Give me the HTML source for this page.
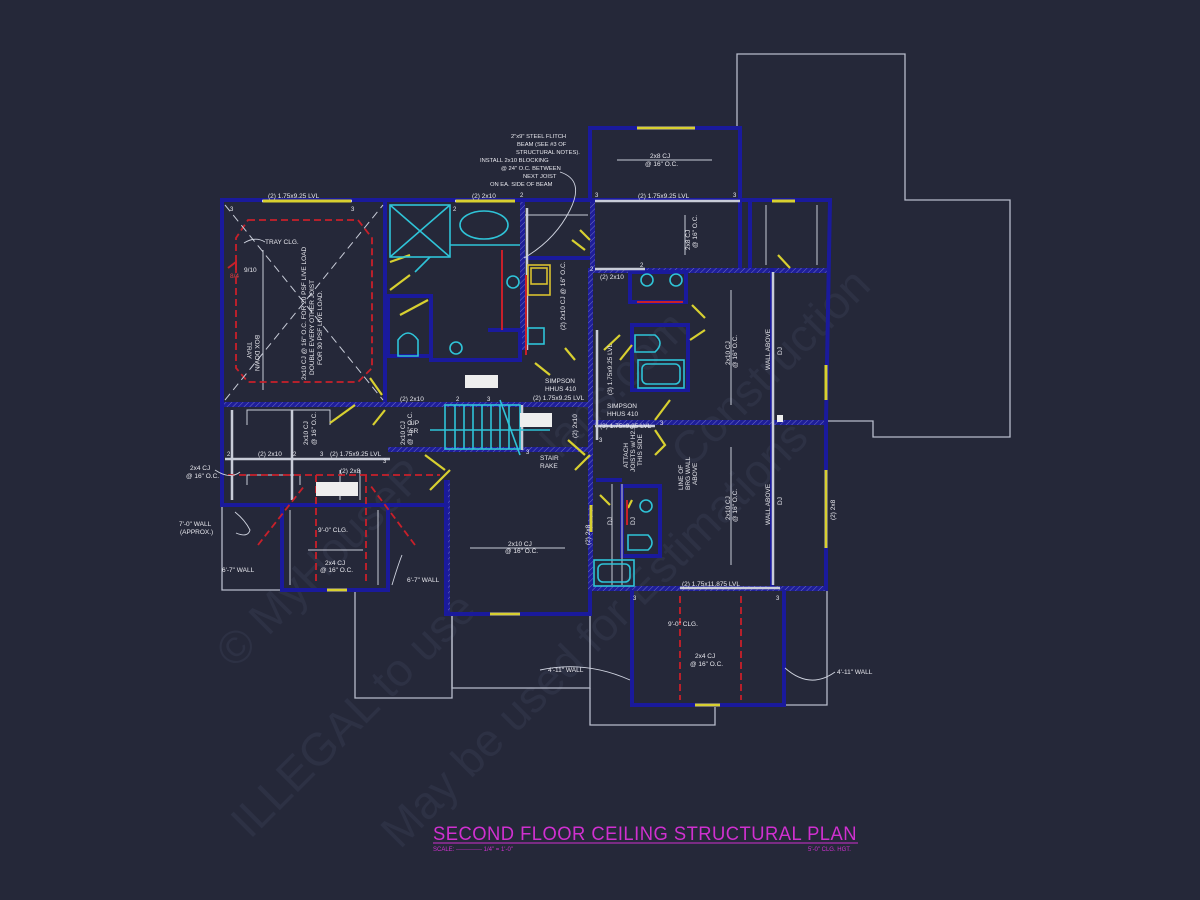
<!DOCTYPE html>
<html><head><meta charset="utf-8"><style>
html,body{margin:0;padding:0;background:#252839;}
svg{display:block}
text{font-family:"Liberation Sans",sans-serif;fill:#e8e8ee}
</style></head><body>
<svg width="1200" height="900" viewBox="0 0 1200 900" xmlns="http://www.w3.org/2000/svg">
<defs>
<pattern id="h" width="4" height="4" patternUnits="userSpaceOnUse" patternTransform="rotate(45)">
<rect width="4" height="4" fill="#1e1e98"/><line x1="0" y1="0" x2="0" y2="4" stroke="#7070c0" stroke-width="1"/></pattern>
</defs>
<rect width="1200" height="900" fill="#252839"/>

<!-- watermark -->
<g font-family="Liberation Serif,serif" font-size="46">
<text x="0" y="0" transform="translate(250,840) rotate(-45)" style="fill:#2d3144">ILLEGAL to use</text>
<text x="0" y="0" transform="translate(235,670) rotate(-45)" style="fill:#2d3144">© MyHouseP</text>
<text x="0" y="0" transform="translate(400,850) rotate(-45)" style="fill:#2d3144">May be used for Estimations</text>
<text x="0" y="0" transform="translate(560,460) rotate(-45)" style="fill:#2d3144">lans.com</text>
<text x="0" y="0" transform="translate(690,470) rotate(-45)" style="fill:#2d3144">Construction</text>
</g>

<!-- gray outlines -->
<g fill="none" stroke="#b8bccb" stroke-width="1.3">
<polyline points="737,128 737,54 905,54 905,200 1010,200 1010,437 873,437 873,421 827,421"/>
<polyline points="222,505 222,590 282,590"/>
<polyline points="355,590 355,698 452,698 452,614"/>
<polyline points="452,614 452,688 590,688 590,614"/>
<polyline points="590,688 590,725 715,725 715,705"/>
<polyline points="784,705 827,705 827,590"/>
</g>

<!-- hatched walls -->
<g fill="url(#h)">
<rect x="222" y="402" width="168" height="5"/>
<rect x="388" y="402" width="200" height="5"/>
<rect x="388" y="447" width="200" height="5"/>
<rect x="446" y="480" width="4" height="134"/>
<rect x="588" y="268" width="240" height="5"/>
<rect x="588" y="420" width="240" height="5"/>
<rect x="588" y="586" width="240" height="5"/>
<rect x="588" y="268" width="5" height="320"/>
<rect x="590" y="200" width="5" height="68"/>
<rect x="520" y="200" width="5" height="150"/>
</g>

<!-- blue walls -->
<g fill="none" stroke="#1a1a9c" stroke-width="4">
<polyline points="590,200 590,128 740,128 740,268"/>
<polyline points="222,402 222,200 830,200 826,420 826,590"/>
<line x1="385" y1="200" x2="385" y2="402"/>
<rect x="388" y="296" width="43" height="60"/>
<polyline points="431,340 431,360 520,360 520,330 488,330"/>
<line x1="525" y1="258" x2="590" y2="258"/>
<polyline points="222,402 222,505 446,505"/>
<polyline points="282,505 282,590 388,590 388,505"/>
<polyline points="446,480 446,614 590,614 590,590"/>
<polyline points="632,590 632,705 784,705 784,590"/>
<line x1="772" y1="268" x2="772" y2="420"/>
<line x1="772" y1="425" x2="772" y2="590"/>
<rect x="630" y="272" width="56" height="30"/>
<rect x="632" y="325" width="56" height="65"/>
<rect x="622" y="486" width="38" height="70"/>
<line x1="750" y1="200" x2="750" y2="268"/>
<line x1="596" y1="480" x2="622" y2="480"/>
</g>

<!-- gray beams -->
<g stroke="#c8ccd8" stroke-width="2.5" fill="none">
<line x1="262" y1="201" x2="352" y2="201"/>
<line x1="455" y1="201" x2="515" y2="201"/>
<line x1="595" y1="201" x2="740" y2="201"/>
<line x1="595" y1="269" x2="645" y2="269"/>
<line x1="225" y1="459" x2="390" y2="459"/>
<line x1="595" y1="426" x2="655" y2="426"/>
<line x1="680" y1="588" x2="780" y2="588"/>
<line x1="597" y1="330" x2="597" y2="440"/>
<line x1="522" y1="405" x2="522" y2="450"/>
<line x1="773" y1="272" x2="773" y2="585"/>
<line x1="232" y1="410" x2="232" y2="500"/>
<line x1="292" y1="410" x2="292" y2="500"/>
<line x1="527" y1="208" x2="527" y2="350"/>
</g>
<g stroke="#c8ccd8" stroke-width="1" fill="none">
<polyline points="247,425 247,410 330,410 330,425"/>
<polyline points="247,485 247,475 300,475 300,485"/>
<line x1="263" y1="250" x2="263" y2="390"/>
<line x1="470" y1="548" x2="565" y2="548"/>
<line x1="617" y1="160" x2="712" y2="160"/>
<line x1="685" y1="215" x2="685" y2="255"/>
<line x1="731" y1="290" x2="731" y2="405"/>
<line x1="731" y1="447" x2="731" y2="565"/>
<line x1="622" y1="484" x2="622" y2="585"/>
<line x1="612" y1="484" x2="612" y2="585"/>
<line x1="766" y1="205" x2="766" y2="265"/>
<line x1="817" y1="205" x2="817" y2="265"/>
<line x1="525" y1="215" x2="588" y2="215"/>
<line x1="308" y1="550" x2="363" y2="550"/>
<line x1="290" y1="510" x2="290" y2="585"/>
<line x1="378" y1="510" x2="378" y2="585"/>
<path d="M340,470 L340,500 M360,470 L360,500"/>
</g>

<!-- yellow windows -->
<g stroke="#d8d030" stroke-width="3" fill="none">
<line x1="263" y1="201" x2="351" y2="201"/>
<line x1="456" y1="201" x2="515" y2="201"/>
<line x1="637" y1="128" x2="695" y2="128"/>
<line x1="772" y1="201" x2="795" y2="201"/>
<line x1="826" y1="365" x2="826" y2="400"/>
<line x1="826" y1="470" x2="826" y2="548"/>
<line x1="490" y1="614" x2="520" y2="614"/>
<line x1="327" y1="590" x2="347" y2="590"/>
<line x1="695" y1="705" x2="720" y2="705"/>
<line x1="591" y1="505" x2="591" y2="532"/>
</g>
<!-- yellow doors -->
<g stroke="#d8d030" stroke-width="2.2" fill="none">
<path d="M390,262 L410,255 M390,290 L410,275"/>
<path d="M400,315 L428,300"/>
<path d="M370,378 L382,395 M373,425 L385,410"/>
<path d="M330,423 L355,405"/>
<path d="M425,455 L445,470 M430,490 L450,470"/>
<path d="M572,240 L585,250 M580,230 L590,240"/>
<path d="M535,363 L550,375 M565,348 L575,360"/>
<path d="M575,470 L590,455 M568,440 L585,455"/>
<path d="M604,350 L620,335 M620,360 L632,345"/>
<path d="M655,420 L670,400"/>
<path d="M692,305 L705,318 M690,340 L705,330"/>
<path d="M778,255 L790,268"/>
<path d="M600,495 L610,505 M628,508 L632,500"/>
<path d="M655,430 L665,445 L655,455"/>
</g>

<!-- red -->
<g stroke="#c8202a" stroke-width="1.8" fill="none" stroke-dasharray="7,4">
<polygon points="248,220 358,220 372,238 372,368 358,382 248,382 236,368 236,238"/>
<line x1="228" y1="475" x2="440" y2="475"/>
<line x1="316" y1="475" x2="316" y2="585"/>
<line x1="366" y1="475" x2="366" y2="585"/>
<line x1="258" y1="545" x2="305" y2="485"/>
<line x1="415" y1="545" x2="370" y2="485"/>
<line x1="680" y1="596" x2="680" y2="700"/>
<line x1="741" y1="596" x2="741" y2="700"/>
</g>
<g stroke="#c8202a" stroke-width="2" fill="none">
<line x1="502" y1="250" x2="502" y2="330"/>
<line x1="526" y1="275" x2="526" y2="355"/>
<line x1="637" y1="302" x2="683" y2="302"/>
<line x1="627" y1="500" x2="627" y2="525"/>
<path d="M228,268 L236,262 L236,270"/>
</g>

<!-- cyan fixtures -->
<g stroke="#2fc4d8" stroke-width="1.6" fill="none">
<rect x="390" y="205" width="60" height="52"/>
<line x1="390" y1="205" x2="450" y2="257"/><line x1="450" y1="205" x2="390" y2="257"/>
<line x1="430" y1="257" x2="415" y2="272"/>
<ellipse cx="484" cy="225" rx="24" ry="14"/>
<line x1="450" y1="245" x2="520" y2="245"/>
<circle cx="513" cy="282" r="6"/>
<circle cx="456" cy="348" r="6"/>
<path d="M398,356 L398,340 Q408,326 418,340 L418,356 Z"/>
<rect x="528" y="328" width="16" height="16"/>
<circle cx="647" cy="280" r="6"/><circle cx="676" cy="280" r="6"/>
<path d="M635,335 L655,335 Q665,343 655,352 L635,352 Z"/>
<rect x="638" y="360" width="46" height="28"/><rect x="642" y="364" width="38" height="20" rx="5"/>
<circle cx="646" cy="506" r="6"/>
<path d="M628,535 L648,535 Q656,543 648,550 L628,550 Z"/>
<rect x="594" y="560" width="40" height="26"/><rect x="598" y="564" width="32" height="18" rx="5"/>
<rect x="445" y="405" width="75" height="44"/>
<path d="M455,405 V449 M464,405 V449 M473,405 V449 M482,405 V449 M491,405 V449 M500,405 V449 M509,405 V449"/>
<line x1="430" y1="430" x2="550" y2="430"/>
<line x1="500" y1="400" x2="520" y2="455"/>
</g>
<g stroke="#d8c030" stroke-width="1.6" fill="none">
<rect x="528" y="265" width="22" height="30"/><rect x="531" y="268" width="16" height="16"/>
</g>

<!-- white diagonals -->
<g stroke="#c8ccd8" stroke-width="1" stroke-dasharray="8,5">
<line x1="225" y1="205" x2="383" y2="400"/>
<line x1="225" y1="400" x2="383" y2="205"/>
</g>

<!-- white boxes -->
<g fill="#eeeeee">
<rect x="465" y="375" width="33" height="13"/>
<rect x="520" y="413" width="32" height="14"/>
<rect x="316" y="482" width="42" height="14"/>
<rect x="777" y="415" width="6" height="7"/>
</g>

<!-- labels -->
<g font-size="6.5">
<text x="268" y="198">(2) 1.75x9.25 LVL</text>
<text x="472" y="198">(2) 2x10</text>
<text x="638" y="198">(2) 1.75x9.25 LVL</text>
<text x="650" y="158">2x8 CJ</text><text x="645" y="166">@ 16" O.C.</text>
<text x="265" y="244">TRAY CLG.</text>
<text x="230" y="278" style="fill:#e84040">8/4</text>
<text x="244" y="272">9/10</text>
<text x="400" y="401">(2) 2x10</text>
<text x="258" y="456">(2) 2x10</text>
<text x="330" y="456">(2) 1.75x9.25 LVL</text>
<text x="340" y="473">(2) 2x8</text>
<text x="190" y="470">2x4 CJ</text><text x="186" y="478">@ 16" O.C.</text>
<text x="179" y="526">7'-0" WALL</text><text x="180" y="534">(APPROX.)</text>
<text x="222" y="572">6'-7" WALL</text>
<text x="407" y="582">6'-7" WALL</text>
<text x="318" y="532">9'-0" CLG.</text>
<text x="325" y="565">2x4 CJ</text><text x="320" y="572">@ 16" O.C.</text>
<text x="508" y="546">2x10 CJ</text><text x="505" y="553">@ 16" O.C.</text>
<text x="410" y="425">UP</text><text x="410" y="433">5R</text>
<text x="540" y="460">STAIR</text><text x="540" y="468">RAKE</text>
<text x="545" y="383">SIMPSON</text><text x="545" y="391">HHUS 410</text>
<text x="607" y="408">SIMPSON</text><text x="607" y="416">HHUS 410</text>
<text x="533" y="400">(2) 1.75x9.25 LVL</text>
<text x="600" y="428">(3) 1.75x9.25 LVL</text>
<text x="600" y="279">(2) 2x10</text>
<text x="682" y="586">(2) 1.75x11.875 LVL</text>
<text x="668" y="626">9'-0" CLG.</text>
<text x="695" y="658">2x4 CJ</text><text x="690" y="666">@ 16" O.C.</text>
<text x="548" y="672">4'-11" WALL</text>
<text x="837" y="674">4'-11" WALL</text>
<g font-size="5.8">
<text x="511" y="138">2"x9" STEEL FLITCH</text>
<text x="517" y="146">BEAM (SEE #3 OF</text>
<text x="516" y="154">STRUCTURAL NOTES).</text>
<text x="480" y="162">INSTALL 2x10 BLOCKING</text>
<text x="501" y="170">@ 24" O.C. BETWEEN</text>
<text x="523" y="178">NEXT JOIST</text>
<text x="490" y="186">ON EA. SIDE OF BEAM</text>
</g>
<text transform="translate(255,335) rotate(90)">BOX DOWN</text>
<text transform="translate(247,342) rotate(90)">TRAY</text>
<text transform="translate(306,380) rotate(-90)">2x10 CJ @ 16" O.C. FOR 20 PSF LIVE LOAD</text>
<text transform="translate(314,375) rotate(-90)">DOUBLE EVERY OTHER JOIST</text>
<text transform="translate(322,365) rotate(-90)">FOR 30 PSF LIVE LOAD.</text>
<text transform="translate(308,445) rotate(-90)">2x10 CJ</text>
<text transform="translate(316,445) rotate(-90)">@ 16" O.C.</text>
<text transform="translate(405,445) rotate(-90)">2x10 CJ</text>
<text transform="translate(412,445) rotate(-90)">@ 16" O.C.</text>
<text transform="translate(565,330) rotate(-90)">(2) 2x10 CJ @ 16" O.C.</text>
<text transform="translate(690,250) rotate(-90)">2x8 CJ</text>
<text transform="translate(697,248) rotate(-90)">@ 16" O.C.</text>
<text transform="translate(730,365) rotate(-90)">2x10 CJ</text>
<text transform="translate(737,368) rotate(-90)">@ 16" O.C.</text>
<text transform="translate(770,370) rotate(-90)">WALL ABOVE</text>
<text transform="translate(782,355) rotate(-90)">DJ</text>
<text transform="translate(730,520) rotate(-90)">2x10 CJ</text>
<text transform="translate(737,522) rotate(-90)">@ 16" O.C.</text>
<text transform="translate(770,525) rotate(-90)">WALL ABOVE</text>
<text transform="translate(782,505) rotate(-90)">DJ</text>
<text transform="translate(835,520) rotate(-90)">(2) 2x8</text>
<text transform="translate(590,545) rotate(-90)">(2) 2x8</text>
<text transform="translate(612,395) rotate(-90)">(3) 1.75x9.25 LVL</text>
<text transform="translate(577,438) rotate(-90)">(2) 2x10</text>
<text transform="translate(683,490) rotate(-90)">LINE OF</text>
<text transform="translate(690,490) rotate(-90)">BRG WALL</text>
<text transform="translate(697,485) rotate(-90)">ABOVE</text>
<text transform="translate(628,468) rotate(-90)">ATTACH</text>
<text transform="translate(635,472) rotate(-90)">JOISTS w/ H2.5</text>
<text transform="translate(642,466) rotate(-90)">THIS SIDE</text>
<text transform="translate(612,525) rotate(-90)">DJ</text>
<text transform="translate(635,525) rotate(-90)">DJ</text>
</g>
<g font-size="6">
<text x="230" y="211">3</text><text x="351" y="211">3</text><text x="453" y="211">2</text><text x="520" y="197">2</text>
<text x="595" y="197">3</text><text x="733" y="197">3</text><text x="590" y="271">2</text><text x="640" y="267">2</text>
<text x="227" y="456">2</text><text x="293" y="456">2</text><text x="320" y="456">3</text><text x="383" y="463">3</text>
<text x="456" y="401">2</text><text x="487" y="401">3</text><text x="526" y="454">3</text><text x="599" y="442">3</text>
<text x="660" y="425">3</text><text x="633" y="600">3</text><text x="776" y="600">3</text>
</g>

<!-- leader curves -->
<g stroke="#d0d4e0" stroke-width="0.9" fill="none">
<path d="M560,172 Q585,180 570,210 Q555,240 524,258"/>
<path d="M244,243 Q255,236 265,242"/>
<path d="M235,512 Q245,520 250,530 Q248,538 236,533"/>
<path d="M392,585 Q398,565 402,555"/>
<path d="M540,670 Q585,660 630,680"/>
<path d="M785,668 Q810,690 835,672"/>
<path d="M215,470 Q230,480 240,472"/>
</g>

<!-- title -->
<text x="433" y="840" font-size="19" style="fill:#d030d0;letter-spacing:0.5px" textLength="424" lengthAdjust="spacingAndGlyphs">SECOND FLOOR CEILING STRUCTURAL PLAN</text>
<line x1="433" y1="843" x2="858" y2="843" stroke="#d030d0" stroke-width="1"/>
<text x="433" y="851" font-size="6" style="fill:#d030d0">SCALE: ------------- 1/4" = 1'-0"</text>
<text x="808" y="851" font-size="6" style="fill:#d030d0">5'-0" CLG. HGT.</text>
</svg>
</body></html>
